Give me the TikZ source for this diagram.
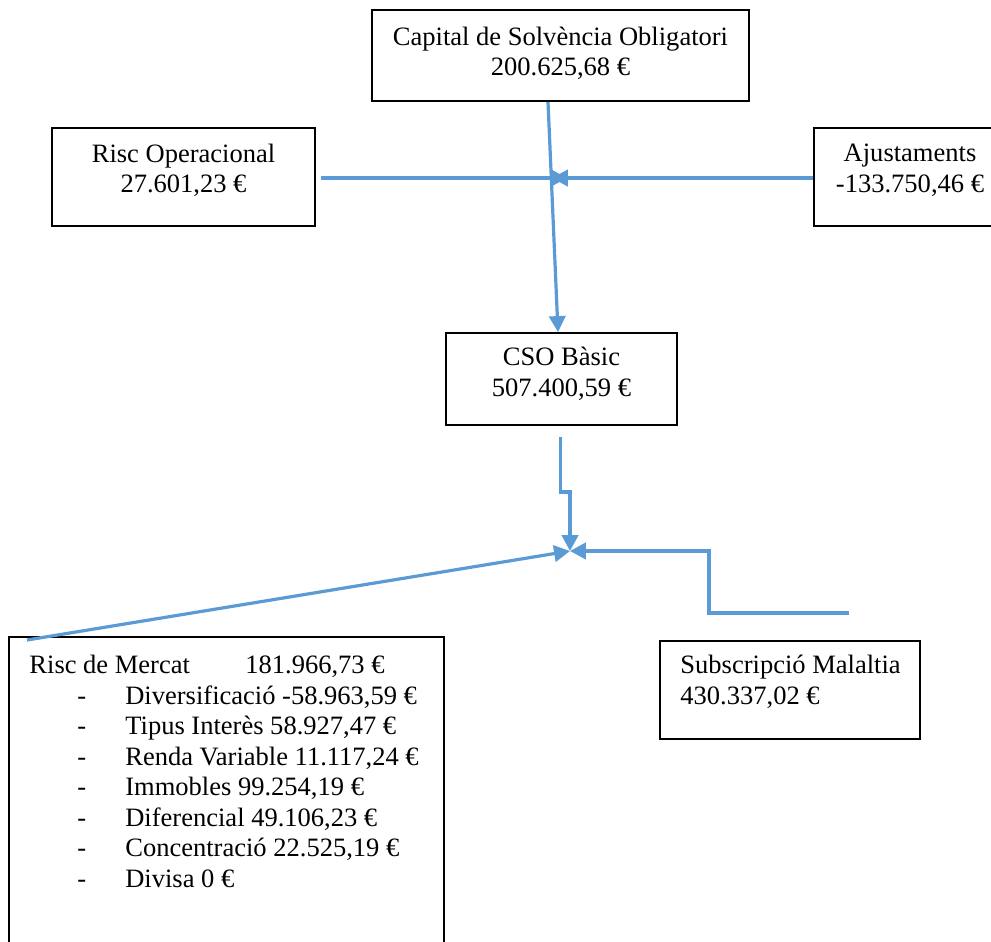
\documentclass[tikz,border=0pt]{standalone}
\usepackage{fontspec}
\setmainfont{Liberation Serif}
\usetikzlibrary{arrows.meta,calc}
\definecolor{linkblue}{HTML}{5B9BD5}
\newcommand\px{0.4525pt}
\begin{document}
\begin{tikzpicture}[x=\px,y=-\px,line join=miter,font=\fontsize{12}{13.8}\selectfont,
		box/.style 2 args={draw=black,line width=0.9pt,inner sep=0pt,minimum width=#1*\px,minimum height=#2*\px},
		txt/.style={inner sep=0pt,align=center},
		link/.style={draw=linkblue,line width=1.45pt,-{Triangle[length=7.2pt,width=7.4pt]}}]
	\def\xmin{0}
	\def\xmax{991}
	\def\ymin{0}
	\def\ymax{942}
	\clip (\xmin,\ymin) rectangle (\xmax,\ymax);
	% boxes
	\node [box={377}{91}] (cap) at (560.5,55.5) {};
	\node [box={263}{98}] (oper) at (183.5,177) {};
	\node [box={192}{98}] (ajust) at (910,177) {};
	\node [box={231}{92}] (cso) at (561.5,379) {};
	\node [box={260}{98}] (subs) at (790,690) {};
	\node [box={435}{363}] (mercat) at (226.5,818.5) {};
	% texts
	\node [txt] (cap-t) at ($(cap.center)+(0,-2)$) {Capital de Solvència Obligatori\\200.625,68 €};
	\node [txt] (oper-t) at ($(oper.center)+(0,-6.5)$) {Risc Operacional\\27.601,23 €};
	\node [txt] (ajust-t) at ($(ajust.center)+(0,-6.5)$) {Ajustaments\\-133.750,46 €};
	\node [txt] (cso-t) at ($(cso.center)+(0,-5)$) {CSO Bàsic\\507.400,59 €};
	\node [txt,align=left,anchor=west] (subs-t) at (680,682) {Subscripció Malaltia\\430.337,02 €};
	\node [txt,align=left,anchor=north west] (mercat-t) at (29,655) {\makebox[97.7pt][l]{Risc de Mercat}181.966,73 €\\
		\hspace*{21.7pt}\makebox[21.7pt][l]{-}Diversificació -58.963,59 €\\
		\hspace*{21.7pt}\makebox[21.7pt][l]{-}Tipus Interès 58.927,47 €\\
		\hspace*{21.7pt}\makebox[21.7pt][l]{-}Renda Variable 11.117,24 €\\
		\hspace*{21.7pt}\makebox[21.7pt][l]{-}Immobles 99.254,19 €\\
		\hspace*{21.7pt}\makebox[21.7pt][l]{-}Diferencial 49.106,23 €\\
		\hspace*{21.7pt}\makebox[21.7pt][l]{-}Concentració 22.525,19 €\\
		\hspace*{21.7pt}\makebox[21.7pt][l]{-}Divisa 0 €};
	% connectors
	\coordinate (tipL) at (567,178);
	\coordinate (tipR) at (552,178);
	\coordinate (join) at (570,551);
	\draw [link] ($(cap.south)+(-12.5,0)$) -- ($(cso.north)+(-3.5,0)$);
	\draw [link] ($(oper.east)+(5,1)$) -- (tipL);
	\draw [link] ($(ajust.west)+(0,1)$) -- (tipR);
	\draw [link] ($(cso.south)+(-1,11)$) |- ($(join)+(0,-59)$) -- (join);
	\draw [link] ($(subs.north)+(59,-27)$) -- ++(-140,0) |- (join);
	\draw [link] ($(mercat.north west)+(19,4)$) -- (join);
\end{tikzpicture}
\end{document}
